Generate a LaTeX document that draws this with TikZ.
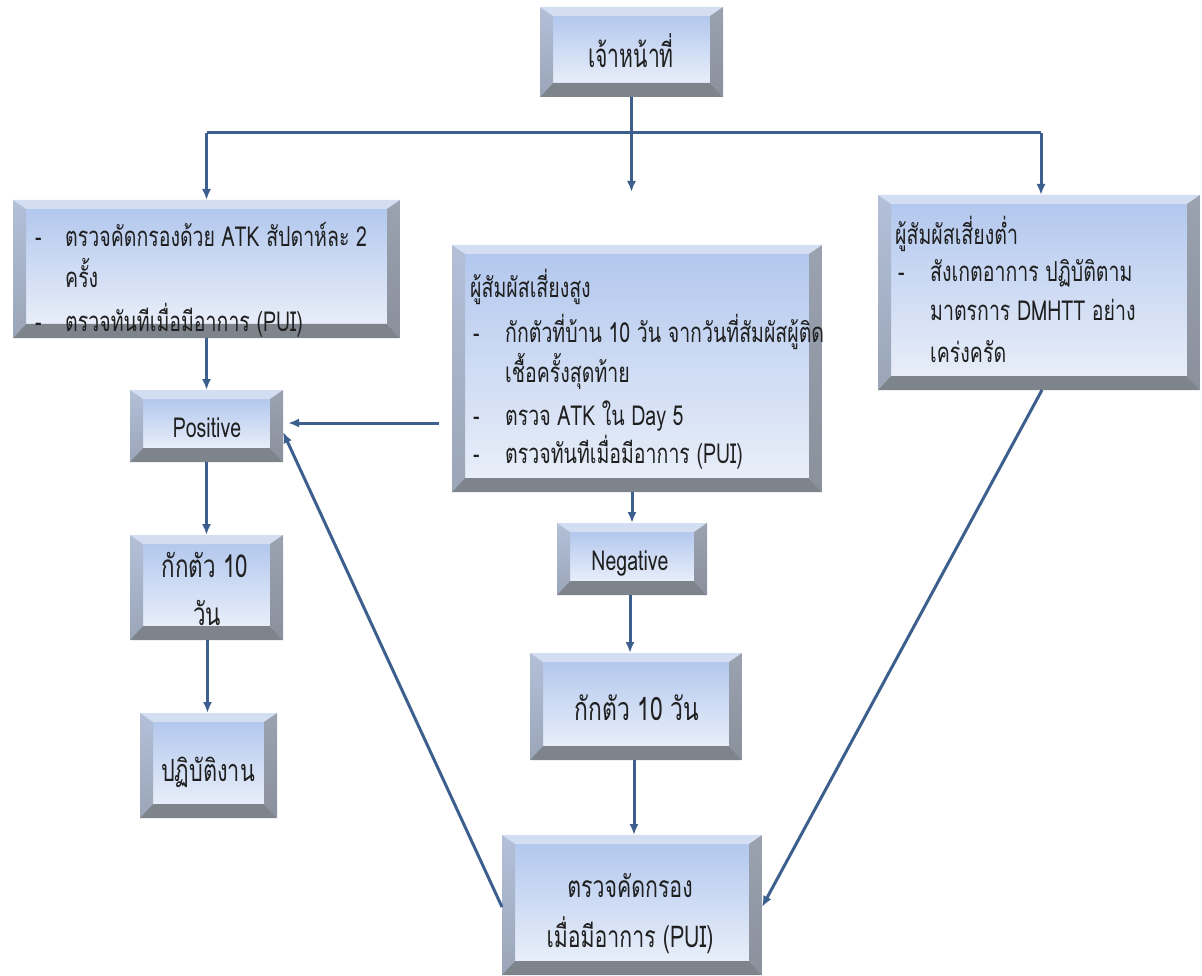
\documentclass[tikz,border=0pt]{standalone}
\usepackage{fontspec}
\newfontfamily\thaic[Script=Thai,FakeStretch=0.71]{Loma}
\newfontfamily\thait[Script=Thai,FakeStretch=0.64]{Loma}
\usetikzlibrary{calc,arrows.meta}
\definecolor{faceT}{HTML}{B3C8EE}
\definecolor{faceB}{HTML}{E8EEF9}
\definecolor{bevTop}{HTML}{D3DEF2}
\definecolor{bevLa}{HTML}{B3C0D8}
\definecolor{bevLb}{HTML}{9AA5B8}
\definecolor{bevRa}{HTML}{9BA2B0}
\definecolor{bevRb}{HTML}{8A909C}
\definecolor{bevBot}{HTML}{7E848C}
\definecolor{arr}{HTML}{3C5F8E}
\tikzset{
  bev/.style={rectangle, draw=none, inner sep=0pt, outer sep=0pt,
    path picture={
      \path (path picture bounding box.north west) coordinate (ppA)
            (path picture bounding box.north east) coordinate (ppB)
            (path picture bounding box.south east) coordinate (ppC)
            (path picture bounding box.south west) coordinate (ppD);
      \path ($(ppA)+(13pt,-9pt)$) coordinate (ppa)
            ($(ppB)+(-13pt,-9pt)$) coordinate (ppb)
            ($(ppC)+(-13pt,14pt)$) coordinate (ppc)
            ($(ppD)+(13pt,14pt)$) coordinate (ppd);
      \shade[top color=faceT, bottom color=faceB] (ppa) rectangle (ppc);
      \fill[bevTop] (ppA)--(ppB)--(ppb)--(ppa)--cycle;
      \shade[top color=bevLa, bottom color=bevLb] (ppA)--(ppa)--(ppd)--(ppD)--cycle;
      \shade[top color=bevRa, bottom color=bevRb] (ppB)--(ppb)--(ppc)--(ppC)--cycle;
      \fill[bevBot] (ppD)--(ppd)--(ppc)--(ppC)--cycle;
    }},
  txt/.style={inner sep=0pt, anchor=base west, text=black!88,
    font=\thaic\fontsize{27.5}{30}\selectfont},
  ctxt/.style={txt, anchor=base},
  fsz/.style={font=\thaic\fontsize{#1}{#1}\selectfont},
  conn/.style={draw=arr, line width=3pt, -{Latex[length=11pt,width=9pt]}},
  plain/.style={draw=arr, line width=3pt}
}
\begin{document}
\begin{tikzpicture}[x=1pt,y=-1pt]
\useasboundingbox (0,0) rectangle (1202,976);
% boxes
\node[bev, minimum width=183pt, minimum height=90pt] (top) at (631.5,52) {};
\node[bev, minimum width=387pt, minimum height=138pt] (lbox) at (206.5,269) {};
\node[bev, minimum width=370pt, minimum height=247pt] (mbox) at (637,368.5) {};
\node[bev, minimum width=322pt, minimum height=195pt] (rbox) at (1039,292.5) {};
\node[bev, minimum width=153pt, minimum height=72pt] (pos) at (206.5,426) {};
\node[bev, minimum width=153pt, minimum height=105pt] (qa) at (206.5,587.5) {};
\node[bev, minimum width=137pt, minimum height=105pt] (work) at (208.5,765.5) {};
\node[bev, minimum width=150pt, minimum height=72pt] (neg) at (632,559) {};
\node[bev, minimum width=212pt, minimum height=107pt] (qb) at (636,706.5) {};
\node[bev, minimum width=260pt, minimum height=140pt] (scr) at (632,905) {};
% texts
\node[ctxt, font=\thait\fontsize{33}{33}\selectfont] (ttop) at (631,68) {เจ้าหน้าที่};
\node[txt] (l1d) at (35,247) {-};
\node[txt] (l1) at (65,247) {ตรวจคัดกรองด้วย ATK สัปดาห์ละ 2};
\node[txt] (l2) at (65,288) {ครั้ง};
\node[txt] (l3d) at (35,331) {-};
\node[txt] (l3) at (65,331) {ตรวจทันทีเมื่อมีอาการ (PUI)};
\node[txt] (m0) at (470,298) {ผู้สัมผัสเสี่ยงสูง};
\node[txt] (m1d) at (473,342) {-};
\node[txt] (m1) at (505,342) {กักตัวที่บ้าน 10 วัน จากวันที่สัมผัสผู้ติด};
\node[txt] (m2) at (505,382) {เชื้อครั้งสุดท้าย};
\node[txt] (m3d) at (473,425) {-};
\node[txt] (m3) at (505,425) {ตรวจ ATK ใน Day 5};
\node[txt] (m4d) at (473,463) {-};
\node[txt] (m4) at (505,463) {ตรวจทันทีเมื่อมีอาการ (PUI)};
\node[txt] (r0) at (895,245) {ผู้สัมผัสเสี่ยงต่ำ};
\node[txt] (r1d) at (898,282) {-};
\node[txt] (r1) at (930,282) {สังเกตอาการ ปฏิบัติตาม};
\node[txt] (r2) at (930,320) {มาตรการ DMHTT อย่าง};
\node[txt] (r3) at (930,362) {เคร่งครัด};
\node[ctxt] (tpos) at (207,437) {Positive};
\node[ctxt, fsz=31.5] (tqa1) at (205,577) {กักตัว 10};
\node[ctxt, fsz=31.5] (tqa2) at (207,625) {วัน};
\node[ctxt, fsz=30.5] (twork) at (208,781) {ปฏิบัติงาน};
\node[ctxt] (tneg) at (630,570) {Negative};
\node[ctxt, fsz=32.2] (tqb) at (637,720) {กักตัว 10 วัน};
\node[ctxt, fsz=30] (ts1) at (630,897) {ตรวจคัดกรอง};
\node[ctxt, fsz=30] (ts2) at (630,947) {เมื่อมีอาการ (PUI)};
% connectors
\coordinate (hub) at (631.5,133);
\coordinate (mtip) at (631.5,192);
\coordinate (lbar) at (206.5,133);
\coordinate (rbar) at (1041,133);
\coordinate (mstart) at (439,423);
\draw[plain] (lbar) -- (rbar);
\draw[conn] (top.south) -- (mtip);
\draw[conn] (lbar) -- (lbox.north);
\draw[conn] (rbar) -- (rbar |- rbox.north);
\draw[conn] (lbox.south) -- (pos.north);
\draw[conn] (pos.south) -- (qa.north);
\draw[conn] ([xshift=1pt]qa.south) -- ([xshift=1pt]qa.south |- work.north);
\draw[conn] (mstart) -- ([xshift=5pt]mstart -| pos.east);
\draw[conn] (neg.north |- mbox.south) -- (neg.north);
\draw[conn] ([xshift=-2pt]neg.south) -- ([xshift=-2pt]neg.south |- qb.north);
\draw[conn] ([xshift=-2pt]qb.south) -- ([xshift=-2pt]qb.south |- scr.north);
\draw[conn] ([yshift=-2pt]scr.west) -- ([yshift=-6pt]pos.east);
\draw[conn] ([xshift=3pt]rbox.south) -- ([yshift=-2pt]scr.east);
\end{tikzpicture}
\end{document}
